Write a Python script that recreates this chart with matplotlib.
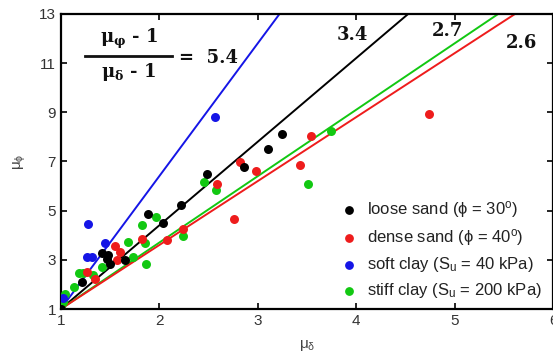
import numpy as np
import matplotlib
matplotlib.use("Agg")
import matplotlib.pyplot as plt

plt.rcParams['font.family'] = ['Liberation Sans', 'DejaVu Sans']
plt.rcParams['mathtext.fontset'] = 'custom'
plt.rcParams['mathtext.rm'] = 'DejaVu Serif:bold'
plt.rcParams['mathtext.it'] = 'DejaVu Serif:bold'
plt.rcParams['mathtext.bf'] = 'DejaVu Serif:bold'

# data
loose_x = [1.0, 1.22, 1.42, 1.47, 1.48, 1.50, 1.65, 1.89, 2.04, 2.22, 2.48, 2.86, 3.10, 3.25]
loose_y = [1.0, 2.08, 3.28, 3.05, 3.20, 2.85, 3.00, 4.88, 4.50, 5.23, 6.49, 6.78, 7.50, 8.10]

dense_x = [1.27, 1.35, 1.55, 1.57, 1.60, 1.82, 2.08, 2.24, 2.59, 2.76, 2.82, 2.98, 3.43, 3.54, 4.74]
dense_y = [2.50, 2.20, 3.55, 3.00, 3.30, 3.85, 3.82, 4.25, 6.10, 4.68, 6.98, 6.62, 6.85, 8.05, 8.92]

soft_x = [1.02, 1.27, 1.32, 1.28, 1.45, 2.57]
soft_y = [1.45, 3.12, 3.12, 4.47, 3.70, 8.82]

stiff_x = [1.0, 1.02, 1.04, 1.13, 1.18, 1.23, 1.33, 1.42, 1.68, 1.73, 1.82, 1.86, 1.87,
           1.97, 2.24, 2.45, 2.58, 3.51, 3.74]
stiff_y = [1.0, 1.30, 1.60, 1.90, 2.48, 2.48, 2.38, 2.72, 3.72, 3.12, 4.41, 3.70, 2.83,
           4.74, 3.97, 6.18, 5.84, 6.08, 8.25]

# fitted ratios (mu_phi - 1) / (mu_delta - 1)
slope_soft = 5.4
slope_loose = 3.4
slope_stiff = 2.7
slope_dense = 2.6

c_black = 'black'
c_red = '#ee1c1c'
c_blue = '#1515e6'
c_green = '#12c812'

fig = plt.figure(figsize=(5.53, 3.56), dpi=100)
ax = fig.add_axes([0.110, 0.132, 0.890, 0.829])

xl = np.array([1.0, 6.0])
for s, c in [(slope_soft, c_blue), (slope_loose, c_black),
             (slope_stiff, c_green), (slope_dense, c_red)]:
    ax.plot(xl, 1 + s * (xl - 1), color=c, lw=1.4, zorder=2)

ms = 42
ax.scatter(stiff_x, stiff_y, s=ms, color=c_green, lw=0, zorder=3)
ax.scatter(dense_x, dense_y, s=ms, color=c_red, lw=0, zorder=3)
ax.scatter(soft_x, soft_y, s=ms, color=c_blue, lw=0, zorder=3)
ax.scatter(loose_x, loose_y, s=ms, color=c_black, lw=0, zorder=4)

# legend (proxy handles keep the reference order)
h = [ax.scatter([], [], s=28, color=c) for c in (c_black, c_red, c_blue, c_green)]
labels = ['loose sand (\u03d5 = 30$\\mathregular{^o}$)',
          'dense sand (\u03d5 = 40$\\mathregular{^o}$)',
          'soft clay (S$\\mathregular{_u}$ = 40 kPa)',
          'stiff clay (S$\\mathregular{_u}$ = 200 kPa)']
ax.legend(h, labels, loc='upper left', bbox_to_anchor=(0.571, 0.372), frameon=False,
          fontsize=12, handlelength=0.8, handletextpad=0.7, labelspacing=0.42,
          borderpad=0, borderaxespad=0, labelcolor='#222222')

# ratio annotations
bold = dict(fontsize=13, fontweight='bold', family='DejaVu Serif', color='#111111')
ax.text(1.69, 12.0, '$\\mu_\\varphi$ - 1', ha='center', va='center', **bold)
ax.text(1.69, 10.62, '$\\mu_\\delta$ - 1', ha='center', va='center', **bold)
ax.plot([1.25, 2.13], [11.28, 11.28], color='#111111', lw=2.0, clip_on=False)
ax.text(2.20, 11.22, '=  5.4', ha='left', va='center', **bold)
ax.text(3.96, 12.14, '3.4', ha='center', va='center', **bold)
ax.text(4.93, 12.30, '2.7', ha='center', va='center', **bold)
ax.text(5.68, 11.80, '2.6', ha='center', va='center', **bold)

ax.set_xlim(1, 6)
ax.set_ylim(1, 13)
ax.set_xticks([1, 2, 3, 4, 5, 6])
ax.set_yticks([1, 3, 5, 7, 9, 11, 13])
ax.tick_params(direction='in', top=True, right=True, length=4, width=1.2,
               labelsize=11, labelcolor='#333333')
for sp in ax.spines.values():
    sp.set_linewidth(1.6)

ax.set_xlabel('$\\mathregular{\u03bc_\u03b4}$', fontsize=11, color='#444444', labelpad=7)
ax.set_ylabel('$\\mathregular{\u03bc_\u03d5}$', fontsize=11, color='#444444', labelpad=8)

fig.savefig('out.png', dpi=100)
